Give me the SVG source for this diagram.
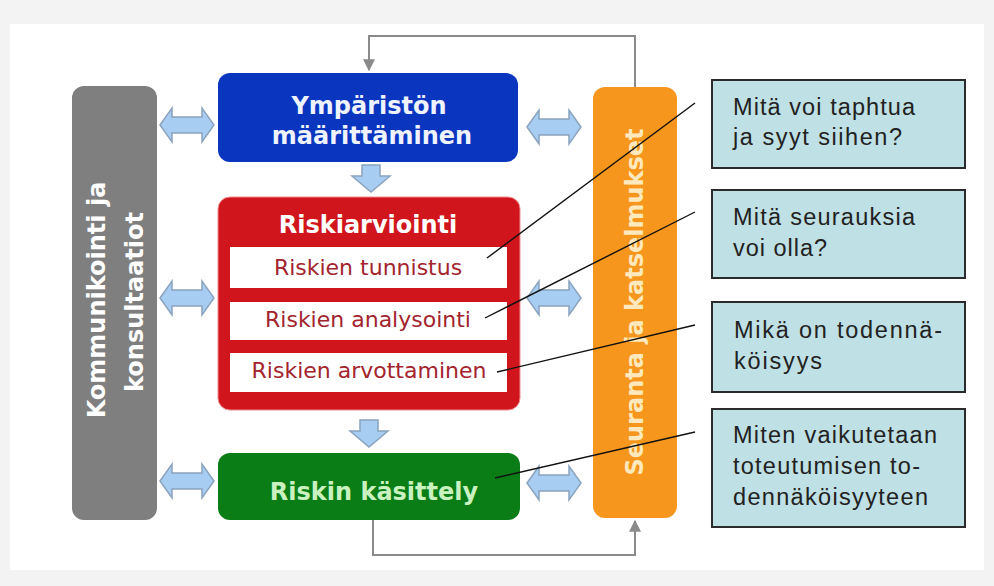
<svg xmlns="http://www.w3.org/2000/svg" width="994" height="586" viewBox="0 0 994 586">
  <defs>
    <style>
      .stage { rx: 12; ry: 12; }
      .title { font-family: "DejaVu Sans", Verdana, sans-serif; font-weight: bold; font-size: 24px; text-anchor: middle; }
      .step { font-family: "DejaVu Sans", Verdana, sans-serif; font-size: 22px; fill: #a3242d; text-anchor: middle; }
      .note-box { fill: #bfe0e4; stroke: #2b2b2b; stroke-width: 2; }
      .note { font-family: "Liberation Sans", Arial, sans-serif; font-size: 23.5px; fill: #222; }
      .flow { fill: none; stroke: #8a8a8a; stroke-width: 2; }
      .leader { stroke: #111; stroke-width: 1.4; }
      .block { fill: #a8cdf3; stroke: #8ba3bd; stroke-width: 1.5; }
    </style>
    <marker id="tip" viewBox="0 0 10 10" refX="9" refY="5" markerWidth="6" markerHeight="6" orient="auto">
      <path d="M0,0 L10,5 L0,10 z" fill="#8a8a8a"/>
    </marker>
    <!-- two-headed horizontal block arrow, 54 x 34 -->
    <polygon id="dbl" class="block" points="0,17 12,0 12,9 42,9 42,0 54,17 42,34 42,25 12,25 12,34"/>
    <!-- downward block arrow, 38 x 27 -->
    <polygon id="down" class="block" points="10,0 28,0 28,11 38,11 19,27 0,11 10,11"/>
  </defs>

  <!-- page -->
  <rect width="994" height="586" fill="#f3f3f3"/>
  <rect x="10" y="24" width="974" height="546" fill="#ffffff"/>

  <!-- connectors -->
  <g id="connectors">
    <path class="flow" d="M635,87 V36 H369 V70" marker-end="url(#tip)"/>
    <path class="flow" d="M373,520 V555 H635 V521" marker-end="url(#tip)"/>
    <use href="#down" x="352" y="165"/>
    <use href="#down" x="350" y="420"/>
    <use href="#dbl" x="160" y="108"/>
    <use href="#dbl" x="160" y="281"/>
    <use href="#dbl" x="160" y="464"/>
    <use href="#dbl" x="527" y="110"/>
    <use href="#dbl" x="527" y="281"/>
    <use href="#dbl" x="527" y="466"/>
  </g>

  <!-- communication column -->
  <g id="kommunikointi">
    <rect class="stage" x="72" y="86" width="85" height="434" fill="#7f7f7f"/>
    <text class="title" fill="#ffffff" transform="translate(105,300) rotate(-90)">Kommunikointi ja</text>
    <text class="title" fill="#ffffff" transform="translate(143,302) rotate(-90)">konsultaatiot</text>
  </g>

  <!-- context -->
  <g id="ymparisto">
    <rect class="stage" x="218" y="73" width="300" height="89" fill="#0a36bf"/>
    <text class="title" fill="#eef3ff" x="369" y="114">Ympäristön</text>
    <text class="title" fill="#eef3ff" x="372" y="144">määrittäminen</text>
  </g>

  <!-- assessment -->
  <g id="riskiarviointi">
    <rect class="stage" x="218" y="197" width="302" height="213" fill="#d0161c" stroke="#f08a8e" stroke-width="1"/>
    <text class="title" fill="#ffffff" x="368" y="233">Riskiarviointi</text>
    <rect x="230" y="247" width="277" height="41" fill="#ffffff"/>
    <text class="step" x="368" y="275">Riskien tunnistus</text>
    <rect x="230" y="302" width="277" height="38" fill="#ffffff"/>
    <text class="step" x="368" y="327">Riskien analysointi</text>
    <rect x="230" y="353" width="277" height="39" fill="#ffffff"/>
    <text class="step" x="369" y="378">Riskien arvottaminen</text>
  </g>

  <!-- treatment -->
  <g id="kasittely">
    <rect class="stage" x="218" y="453" width="302" height="67" fill="#0a7d16"/>
    <text class="title" fill="#c9f2c0" x="374" y="500">Riskin käsittely</text>
  </g>

  <!-- monitoring column -->
  <g id="seuranta">
    <rect class="stage" x="593" y="87" width="84" height="431" fill="#f7961c"/>
    <text class="title" fill="#fde9bd" transform="translate(643,302) rotate(-90)">Seuranta ja katselmukset</text>
  </g>

  <!-- leader lines -->
  <g id="leaders">
    <line class="leader" x1="487" y1="258" x2="695" y2="103"/>
    <line class="leader" x1="485" y1="318" x2="695" y2="212"/>
    <line class="leader" x1="497" y1="372" x2="695" y2="325"/>
    <line class="leader" x1="495" y1="478" x2="695" y2="432"/>
  </g>

  <!-- question notes -->
  <g id="note1">
    <rect class="note-box" x="712" y="80" width="253" height="88"/>
    <text class="note" x="733" y="115" textLength="182">Mitä voi taphtua</text>
    <text class="note" x="733" y="145" textLength="169">ja syyt siihen?</text>
  </g>
  <g id="note2">
    <rect class="note-box" x="712" y="190" width="253" height="88"/>
    <text class="note" x="733" y="225" textLength="182">Mitä seurauksia</text>
    <text class="note" x="733" y="256" textLength="94">voi olla?</text>
  </g>
  <g id="note3">
    <rect class="note-box" x="712" y="302" width="253" height="90"/>
    <text class="note" x="734" y="338" textLength="208">Mikä on todennä-</text>
    <text class="note" x="734" y="369" textLength="88">köisyys</text>
  </g>
  <g id="note4">
    <rect class="note-box" x="712" y="409" width="253" height="118"/>
    <text class="note" x="733" y="443" textLength="204">Miten vaikutetaan</text>
    <text class="note" x="733" y="474" textLength="187">toteutumisen to-</text>
    <text class="note" x="733" y="505" textLength="195">dennäköisyyteen</text>
  </g>
</svg>
